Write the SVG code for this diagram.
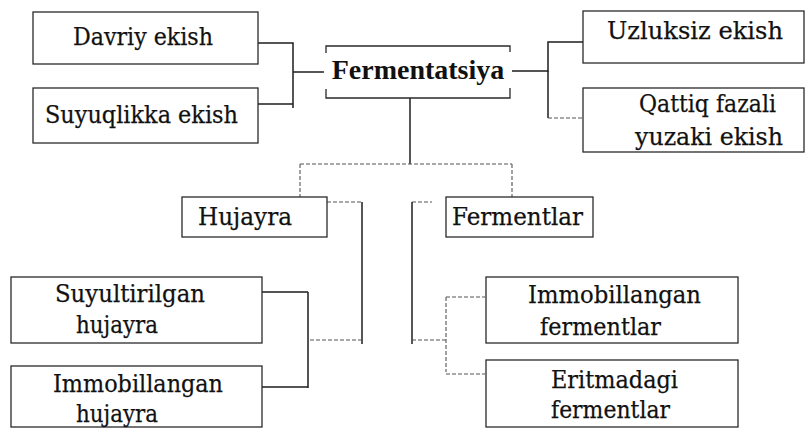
<svg xmlns="http://www.w3.org/2000/svg" width="806" height="429" viewBox="0 0 806 429">
  <style>
    .box { fill: none; stroke: #2a2a2a; stroke-width: 1.3; }
    .lbl { font-family: "DejaVu Serif", "Liberation Serif", serif; font-size: 25px; fill: #111; stroke: #111; stroke-width: 0.25; }
    .root { font-family: "Liberation Serif", "DejaVu Serif", serif; font-weight: bold; font-size: 28px; text-anchor: middle; }
    .ln { fill: none; stroke: #1e1e1e; stroke-width: 1.5; }
    .dot { fill: none; stroke: #555; stroke-width: 1.1; stroke-dasharray: 4 2; }
  </style>
  <rect width="806" height="429" fill="#fff"/>

  <!-- connectors -->
  <g id="connectors">
    <!-- left branch of the root -->
    <path class="ln" d="M258,43 H293 V108 M258,104 H293 M293,72 H324"/>
    <!-- right branch of the root -->
    <path class="ln" d="M512,71 H548 V42 H583"/>
    <path class="ln" d="M548,71 V118"/>
    <path class="dot" d="M548,118 H583"/>
    <!-- trunk down to the two groups -->
    <path class="ln" d="M410,98 V164"/>
    <path class="dot" d="M300,164 H512 M300,164 V197 M512,164 V197"/>
    <!-- Hujayra branch -->
    <path class="dot" d="M327,202 H362"/>
    <path class="ln" d="M362,202 V344"/>
    <path class="dot" d="M362,340 H308"/>
    <path class="ln" d="M308,292 V388 M262,292 H308 M262,387 H308"/>
    <!-- Fermentlar branch -->
    <path class="dot" d="M412,202 H432"/>
    <path class="ln" d="M412,202 V344"/>
    <path class="dot" d="M412,340 H446 M446,297 V372 M446,297 H485 M446,374 H485"/>
  </g>

  <g id="fermentatsiya">
    <path class="box" d="M326,53 V46 H510 V52 M326,89 V98 H510 V88"/>
    <text class="root" x="418" y="79" fill="#111">Fermentatsiya</text>
  </g>

  <g id="davriy-ekish">
    <rect class="box" x="33" y="12" width="225" height="52"/>
    <text class="lbl" x="73" y="45" textLength="140" lengthAdjust="spacingAndGlyphs">Davriy ekish</text>
  </g>

  <g id="suyuqlikka-ekish">
    <rect class="box" x="33" y="88" width="225" height="55"/>
    <text class="lbl" x="45" y="123" textLength="193" lengthAdjust="spacingAndGlyphs">Suyuqlikka ekish</text>
  </g>

  <g id="uzluksiz-ekish">
    <rect class="box" x="583" y="11" width="221" height="52"/>
    <text class="lbl" x="607" y="39" textLength="176" lengthAdjust="spacingAndGlyphs">Uzluksiz ekish</text>
  </g>

  <g id="qattiq-fazali">
    <rect class="box" x="583" y="88" width="221" height="64"/>
    <text class="lbl" x="639" y="112" textLength="137" lengthAdjust="spacingAndGlyphs">Qattiq fazali</text>
    <text class="lbl" x="635" y="145" textLength="148" lengthAdjust="spacingAndGlyphs">yuzaki ekish</text>
  </g>

  <g id="hujayra">
    <rect class="box" x="182" y="197" width="145" height="40"/>
    <text class="lbl" x="198" y="225" textLength="94" lengthAdjust="spacingAndGlyphs">Hujayra</text>
  </g>

  <g id="fermentlar">
    <rect class="box" x="446" y="197" width="147" height="40"/>
    <text class="lbl" x="452" y="225" textLength="131" lengthAdjust="spacingAndGlyphs">Fermentlar</text>
  </g>

  <g id="suyultirilgan-hujayra">
    <rect class="box" x="11" y="277" width="251" height="66"/>
    <text class="lbl" x="55" y="302" textLength="150" lengthAdjust="spacingAndGlyphs">Suyultirilgan</text>
    <text class="lbl" x="76" y="333" textLength="82" lengthAdjust="spacingAndGlyphs">hujayra</text>
  </g>

  <g id="immobillangan-hujayra">
    <rect class="box" x="11" y="366" width="251" height="61"/>
    <text class="lbl" x="53" y="392" textLength="170" lengthAdjust="spacingAndGlyphs">Immobillangan</text>
    <text class="lbl" x="76" y="422" textLength="82" lengthAdjust="spacingAndGlyphs">hujayra</text>
  </g>

  <g id="immobillangan-fermentlar">
    <rect class="box" x="486" y="277" width="252" height="66"/>
    <text class="lbl" x="528" y="303" textLength="173" lengthAdjust="spacingAndGlyphs">Immobillangan</text>
    <text class="lbl" x="540" y="335" textLength="121" lengthAdjust="spacingAndGlyphs">fermentlar</text>
  </g>

  <g id="eritmadagi-fermentlar">
    <rect class="box" x="486" y="360" width="252" height="67"/>
    <text class="lbl" x="551" y="388" textLength="127" lengthAdjust="spacingAndGlyphs">Eritmadagi</text>
    <text class="lbl" x="551" y="418" textLength="119" lengthAdjust="spacingAndGlyphs">fermentlar</text>
  </g>
</svg>
